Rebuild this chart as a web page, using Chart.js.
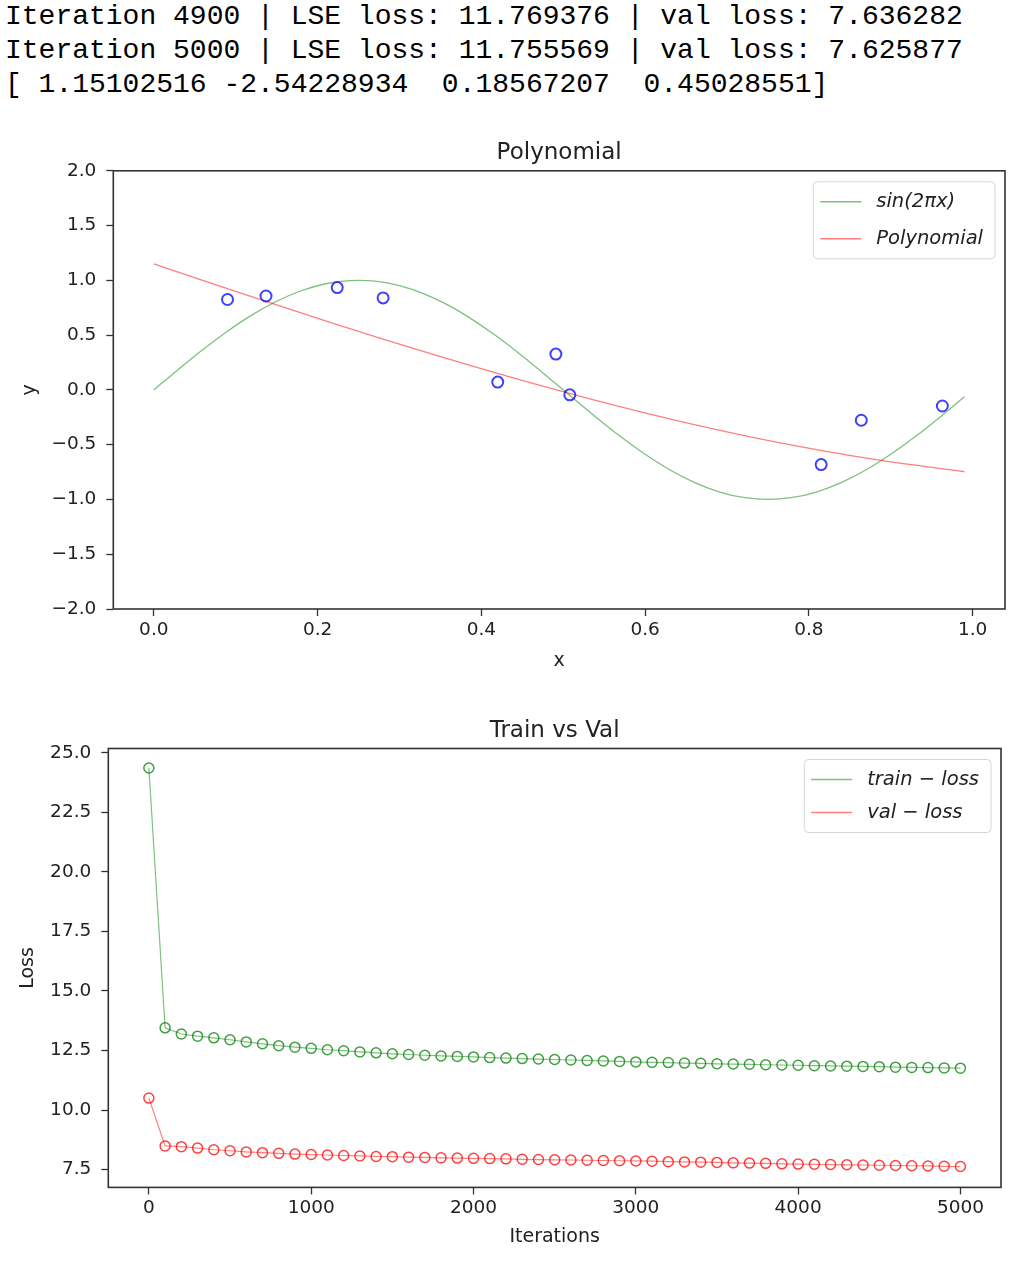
<!DOCTYPE html>
<html>
<head>
<meta charset="utf-8">
<script src="https://cdn.jsdelivr.net/npm/chart.js@4.4.1/dist/chart.umd.min.js"></script>
<style>
  body { margin: 0; background: #fff; width: 1016px; height: 1274px; position: relative; overflow: hidden; }
  #log { position: absolute; left: 5px; top: 0; margin: 0; font-family: "Liberation Mono", monospace; font-size: 28px; line-height: 34px; color: #000; }
  canvas { position: absolute; left: 0; }
  #polyChart { top: 130px; }
  #lossChart { top: 700px; }
</style>
</head>
<body>
<pre id="log"></pre>
<canvas id="polyChart" width="1016" height="545"></canvas>
<canvas id="lossChart" width="1016" height="574"></canvas>
<script>
// notebook output printed above the plots
const logLines = [
    'Iteration 4900 | LSE loss: 11.769376 | val loss: 7.636282',
    'Iteration 5000 | LSE loss: 11.755569 | val loss: 7.625877',
    '[ 1.15102516 -2.54228934  0.18567207  0.45028551]'
];

// --- Polynomial plot ---
const sinX = [0, 0.03, 0.06, 0.09, 0.12, 0.15, 0.18, 0.21, 0.24, 0.27, 0.30, 0.33, 0.36, 0.39, 0.42, 0.45, 0.48,
              0.51, 0.54, 0.57, 0.60, 0.63, 0.66, 0.69, 0.72, 0.75, 0.78, 0.81, 0.84, 0.87, 0.90, 0.93, 0.96, 0.99];
const sinY = [0, 0.187, 0.368, 0.536, 0.685, 0.809, 0.905, 0.969, 0.998, 0.992, 0.951, 0.876, 0.771, 0.637, 0.482, 0.309, 0.125,
              -0.063, -0.249, -0.426, -0.588, -0.729, -0.844, -0.930, -0.982, -1.0, -0.982, -0.930, -0.844, -0.729, -0.588, -0.426, -0.249, -0.063];
const polyX = [0, 0.11, 0.22, 0.33, 0.44, 0.55, 0.66, 0.77, 0.88, 0.99];
const polyY = [1.151, 0.874, 0.606, 0.349, 0.107, -0.116, -0.317, -0.491, -0.635, -0.747];
const sampleX = [0.090, 0.137, 0.224, 0.280, 0.420, 0.491, 0.508, 0.815, 0.864, 0.963];
const sampleY = [0.825, 0.857, 0.934, 0.840, 0.071, 0.327, -0.045, -0.682, -0.277, -0.147];
const polyXTicks = [0, 0.2, 0.4, 0.6, 0.8, 1.0];
const polyYTicks = [-2, -1.5, -1, -0.5, 0, 0.5, 1, 1.5, 2];

// --- Train vs Val plot ---
const iterations = [0, 100, 200, 300, 400, 500, 600, 700, 800, 900, 1000, 1100, 1200, 1300, 1400, 1500, 1600, 1700,
                    1800, 1900, 2000, 2100, 2200, 2300, 2400, 2500, 2600, 2700, 2800, 2900, 3000, 3100, 3200, 3300,
                    3400, 3500, 3600, 3700, 3800, 3900, 4000, 4100, 4200, 4300, 4400, 4500, 4600, 4700, 4800, 4900, 5000];
const trainLoss = [24.36, 13.45, 13.19, 13.10, 13.03, 12.95, 12.86, 12.78, 12.70, 12.64, 12.59, 12.53, 12.49, 12.44, 12.40,
                   12.36, 12.33, 12.30, 12.27, 12.25, 12.23, 12.20, 12.18, 12.16, 12.14, 12.12, 12.10, 12.08, 12.06, 12.04,
                   12.02, 12.00, 11.99, 11.97, 11.96, 11.94, 11.93, 11.92, 11.90, 11.89, 11.88, 11.86, 11.85, 11.84, 11.83,
                   11.82, 11.80, 11.79, 11.78, 11.769, 11.756];
const valLoss = [10.50, 8.49, 8.46, 8.40, 8.33, 8.29, 8.24, 8.21, 8.18, 8.15, 8.13, 8.11, 8.09, 8.07, 8.05,
                 8.04, 8.02, 8.01, 7.99, 7.98, 7.97, 7.96, 7.95, 7.93, 7.92, 7.91, 7.90, 7.89, 7.88, 7.87,
                 7.86, 7.85, 7.83, 7.82, 7.81, 7.80, 7.78, 7.77, 7.76, 7.74, 7.73, 7.72, 7.71, 7.70, 7.69,
                 7.68, 7.67, 7.66, 7.65, 7.636, 7.626];
const lossXTicks = [0, 1000, 2000, 3000, 4000, 5000];
const lossYTicks = [7.5, 10, 12.5, 15, 17.5, 20, 22.5, 25];

document.getElementById('log').textContent = logLines.join('\n');

Chart.defaults.font.family = '"DejaVu Sans", sans-serif';
Chart.defaults.color = '#222';

function fmt1(v) {
    return (v < 0 ? '\u2212' : '') + Math.abs(v).toFixed(1);
}

function points(xs, ys) {
    return xs.map((x, i) => ({x: x, y: ys[i]}));
}

// black box round the plot area, like matplotlib spines
const frame = {
    id: 'frame',
    afterDatasetsDraw(chart) {
        const ctx = chart.ctx, a = chart.chartArea;
        ctx.save();
        ctx.strokeStyle = '#333';
        ctx.lineWidth = 1.6;
        ctx.strokeRect(a.left, a.top, a.right - a.left, a.bottom - a.top);
        ctx.restore();
    }
};

// legend box in the upper right corner
const mplLegend = {
    id: 'mplLegend',
    afterDraw(chart, args, opts) {
        const ctx = chart.ctx, a = chart.chartArea;
        const items = chart.data.datasets.filter(d => d.legendText);
        ctx.save();
        ctx.font = 'italic 19.5px "DejaVu Sans"';
        const textW = Math.max(...items.map(d => ctx.measureText(d.legendText).width));
        const w = 63 + textW + 12;
        const h = 40 + (items.length - 1) * opts.rowHeight;
        const x = a.right - 10 - w, y = a.top + 11;
        ctx.beginPath();
        ctx.roundRect(x, y, w, h, 4);
        ctx.fillStyle = 'rgba(255,255,255,0.8)';
        ctx.fill();
        ctx.strokeStyle = '#d6d6d6';
        ctx.lineWidth = 1;
        ctx.stroke();
        items.forEach((d, i) => {
            const cy = y + 20 + i * opts.rowHeight;
            ctx.strokeStyle = d.borderColor;
            ctx.lineWidth = 1.5;
            ctx.beginPath();
            ctx.moveTo(x + 7, cy);
            ctx.lineTo(x + 48, cy);
            ctx.stroke();
            ctx.fillStyle = '#222';
            ctx.textBaseline = 'middle';
            ctx.fillText(d.legendText, x + 63, cy);
        });
        ctx.restore();
    }
};

function axis(opts) {
    return {
        type: 'linear',
        min: opts.min,
        max: opts.max,
        afterBuildTicks: s => { s.ticks = opts.ticks.map(v => ({value: v})); },
        afterFit: opts.fit,
        ticks: {
            callback: opts.format,
            font: {size: 18.5},
            color: '#222',
            padding: opts.padding,
            maxRotation: 0,
            autoSkip: false
        },
        grid: {display: true, drawOnChartArea: false, drawTicks: true, tickLength: 7, tickColor: '#333', tickWidth: 1.3},
        border: {display: false},
        title: {display: true, text: opts.title, font: {size: 19}, color: '#222', padding: opts.titlePadding}
    };
}

new Chart(document.getElementById('polyChart'), {
    type: 'scatter',
    data: {
        datasets: [{
            data: points(sampleX, sampleY),
            pointRadius: 5.5,
            pointBorderWidth: 2,
            pointBorderColor: 'rgba(0,0,255,0.75)',
            pointBackgroundColor: 'rgba(0,0,0,0)',
            order: 0
        }, {
            legendText: 'sin(2πx)',
            data: points(sinX, sinY),
            showLine: true,
            borderColor: 'rgba(0,128,0,0.5)',
            borderWidth: 1.3,
            tension: 0.35,
            pointRadius: 0,
            order: 2
        }, {
            legendText: 'Polynomial',
            data: points(polyX, polyY),
            showLine: true,
            borderColor: 'rgba(255,0,0,0.5)',
            borderWidth: 1.3,
            tension: 0.35,
            pointRadius: 0,
            order: 1
        }]
    },
    options: {
        responsive: false,
        animation: false,
        devicePixelRatio: 1,
        events: [],
        layout: {padding: {left: 0, right: 11, top: 0, bottom: 0}},
        scales: {
            x: axis({min: -0.0495, max: 1.0395, ticks: polyXTicks, format: fmt1, padding: 3, title: 'x',
                     titlePadding: {top: 0, bottom: 2.6}, fit: s => { s.height = 66; }}),
            y: axis({min: -2, max: 2, ticks: polyYTicks, format: fmt1, padding: 10, title: 'y',
                     titlePadding: {top: 19, bottom: 0}, fit: s => { s.width = 113.3; }})
        },
        plugins: {
            legend: {display: false},
            tooltip: {enabled: false},
            title: {display: true, fullSize: false, text: 'Polynomial', color: '#222', font: {size: 23, weight: 'normal'},
                    padding: {top: 9.2, bottom: 4}},
            mplLegend: {rowHeight: 37}
        }
    },
    plugins: [frame, mplLegend]
});

new Chart(document.getElementById('lossChart'), {
    type: 'scatter',
    data: {
        datasets: [{
            legendText: 'train − loss',
            data: points(iterations, trainLoss),
            showLine: true,
            borderColor: 'rgba(0,128,0,0.5)',
            borderWidth: 1.2,
            pointRadius: 5,
            pointBorderWidth: 1.5,
            pointBorderColor: 'rgba(0,128,0,0.75)',
            pointBackgroundColor: 'rgba(0,0,0,0)'
        }, {
            legendText: 'val − loss',
            data: points(iterations, valLoss),
            showLine: true,
            borderColor: 'rgba(255,0,0,0.5)',
            borderWidth: 1.2,
            pointRadius: 5,
            pointBorderWidth: 1.5,
            pointBorderColor: 'rgba(255,0,0,0.75)',
            pointBackgroundColor: 'rgba(0,0,0,0)'
        }]
    },
    options: {
        responsive: false,
        animation: false,
        devicePixelRatio: 1,
        events: [],
        layout: {padding: {left: 0, right: 15, top: 0, bottom: 0}},
        scales: {
            x: axis({min: -250, max: 5250, ticks: lossXTicks, format: v => String(v), padding: 3, title: 'Iterations',
                     titlePadding: {top: 0, bottom: 25.6}, fit: s => { s.height = 86.6; }}),
            y: axis({min: 6.75, max: 25.18, ticks: lossYTicks, format: fmt1, padding: 10, title: 'Loss',
                     titlePadding: {top: 17, bottom: 0}, fit: s => { s.width = 108.3; }})
        },
        plugins: {
            legend: {display: false},
            tooltip: {enabled: false},
            title: {display: true, fullSize: false, text: 'Train vs Val', color: '#222', font: {size: 23, weight: 'normal'},
                    padding: {top: 17.2, bottom: 3.7}},
            mplLegend: {rowHeight: 33}
        }
    },
    plugins: [frame, mplLegend]
});
</script>
</body>
</html>
